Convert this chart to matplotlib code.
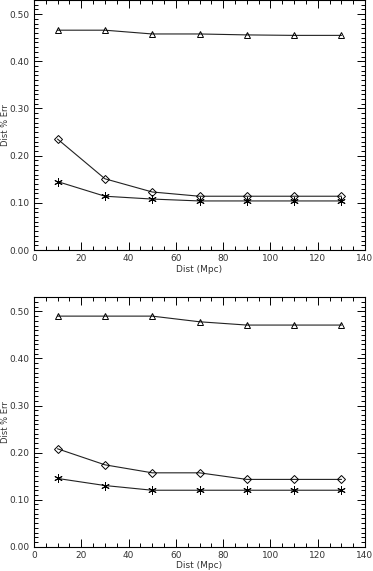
import numpy as np
import matplotlib.pyplot as plt
from matplotlib.ticker import MultipleLocator, FormatStrFormatter

# distances (Mpc)
dist = [10, 30, 50, 70, 90, 110, 130]

# top panel
top_tri = [0.466, 0.466, 0.458, 0.458, 0.456, 0.455, 0.455]
top_dia = [0.235, 0.151, 0.123, 0.114, 0.114, 0.114, 0.114]
top_ast = [0.145, 0.114, 0.108, 0.104, 0.104, 0.104, 0.104]

# bottom panel
bot_tri = [0.490, 0.490, 0.490, 0.478, 0.471, 0.471, 0.471]
bot_dia = [0.208, 0.174, 0.157, 0.157, 0.143, 0.143, 0.143]
bot_ast = [0.145, 0.130, 0.120, 0.120, 0.120, 0.120, 0.120]

x_ticks = [0, 20, 40, 60, 80, 100, 120, 140]
y_ticks = [0.0, 0.1, 0.2, 0.3, 0.4, 0.5]

plt.rcParams['font.family'] = 'DejaVu Sans'
plt.rcParams['font.size'] = 6.5

fig = plt.figure(figsize=(3.73, 5.71), dpi=100)
ax1 = fig.add_axes([34/373, 321/571, 331/373, 250/571])
ax2 = fig.add_axes([34/373, 24.3/571, 331/373, 249.4/571])

asterisk = (6, 2, 0)

for ax, tri, dia, ast in [(ax1, top_tri, top_dia, top_ast),
                          (ax2, bot_tri, bot_dia, bot_ast)]:
    kw = dict(color='#222222', lw=0.8, mfc='none', mec='black', mew=0.7)
    ax.plot(dist, tri, marker='^', ms=5, **kw)
    ax.plot(dist, dia, marker='D', ms=3.8, **kw)
    ax.plot(dist, ast, marker=asterisk, ms=6, **kw)

    ax.set_xlim(0, 140)
    ax.set_ylim(0, 0.53)
    ax.set_xticks(x_ticks)
    ax.set_yticks(y_ticks)
    ax.xaxis.set_minor_locator(MultipleLocator(5))
    ax.yaxis.set_minor_locator(MultipleLocator(0.01))
    ax.yaxis.set_major_formatter(FormatStrFormatter('%.2f'))
    ax.tick_params(which='both', direction='in', top=True, right=True,
                   width=0.7, colors='black', labelcolor='#333333')
    ax.tick_params(which='major', length=6, pad=3)
    ax.tick_params(which='minor', length=3)
    for s in ax.spines.values():
        s.set_linewidth(0.8)
    ax.set_xlabel('Dist (Mpc)', color='#333333', labelpad=1)
    ax.set_ylabel('Dist % Err', color='#333333', fontsize=6)
    ax.yaxis.set_label_coords(-0.072, 0.5)

plt.savefig('out.png', dpi=100)
